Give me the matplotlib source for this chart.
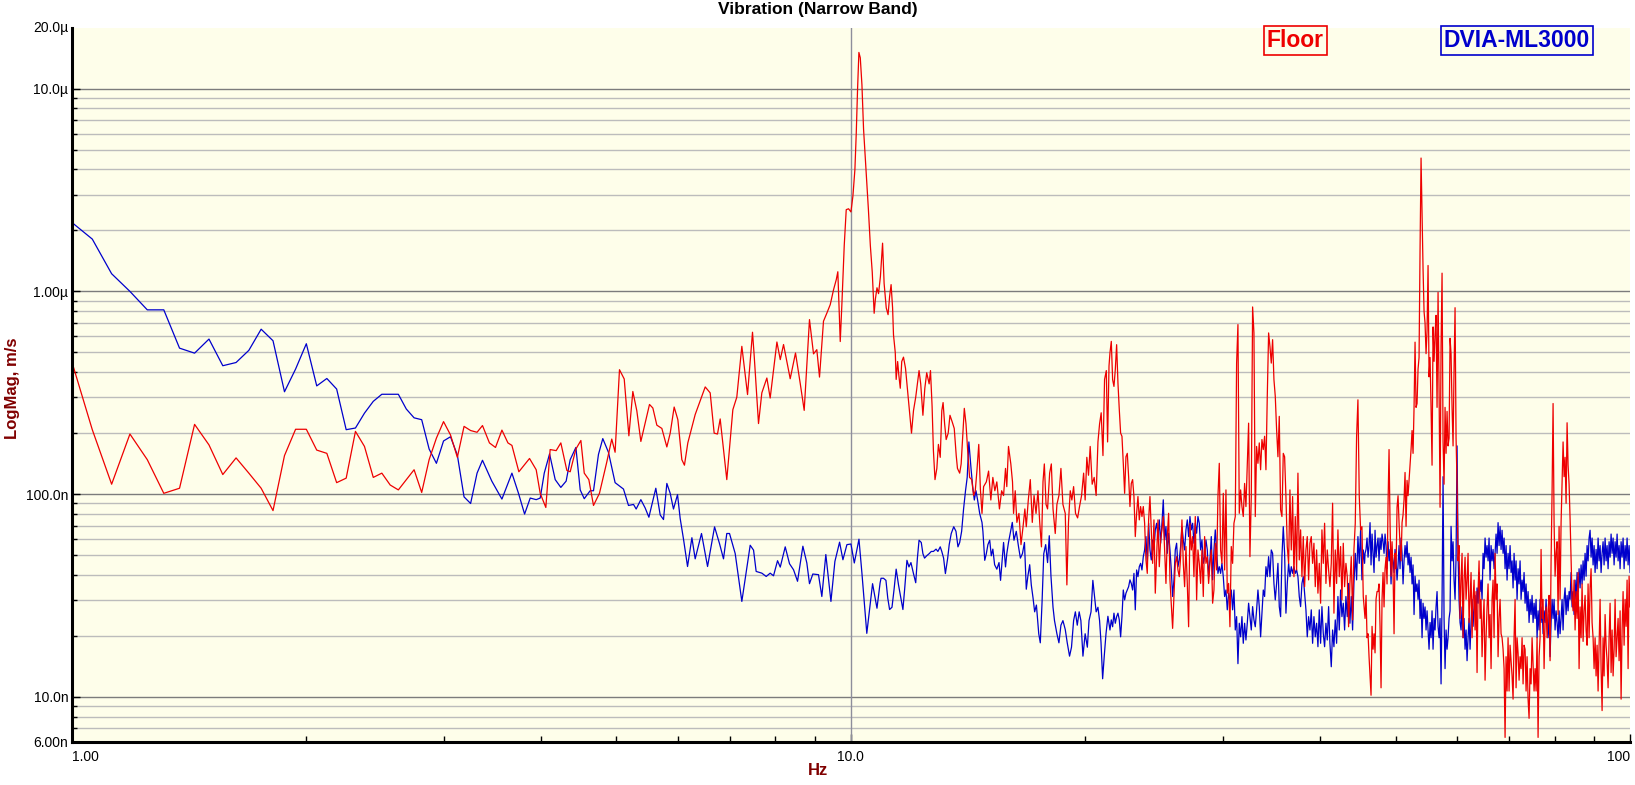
import numpy as np
import matplotlib
matplotlib.use("Agg")
import matplotlib.pyplot as plt

plt.rcParams["font.family"] = ["Liberation Sans", "DejaVu Sans"]

# ---------------------------------------------------------------------------
# Narrow band vibration spectra, magnitudes in nm/s
# ---------------------------------------------------------------------------

# 1 - 3.3 Hz : FFT bins every 0.0625 Hz
freq_low = np.arange(1.0, 3.33, 0.0625)
floor_low = [451, 208, 112, 198, 148, 101, 107, 221, 175, 125, 151, 127, 107,
             83, 155, 209, 209, 165, 159, 114, 120, 204, 172, 121, 127, 111,
             105, 118, 132, 102, 148, 189, 228, 196, 152, 216, 206, 202]
dvia_low = [2190, 1811, 1222, 1000, 811, 811, 525, 496, 582, 430, 446, 512,
            651, 571, 320, 414, 552, 342, 372, 330, 208, 212, 251, 287, 311,
            311, 311, 263, 238, 233, 167, 142, 183, 192, 156, 97, 90, 127]

# 3.3 - 21.5 Hz : (Hz, nm/s) vertices
floor_mid = [
    (3.366, 218), (3.436, 179), (3.498, 170), (3.565, 207), (3.629, 179),
    (3.672, 174), (3.748, 129), (3.868, 150), (3.945, 132), (3.992, 101),
    (4.059, 86), (4.111, 166), (4.185, 164), (4.243, 179), (4.319, 131),
    (4.362, 129), (4.436, 167), (4.502, 184), (4.547, 127), (4.609, 118),
    (4.673, 88), (4.756, 101), (4.860, 144), (4.932, 187), (4.981, 161),
    (5.046, 411), (5.117, 370), (5.188, 194), (5.249, 321), (5.311, 258),
    (5.375, 182), (5.514, 277), (5.569, 266), (5.635, 219), (5.719, 211),
    (5.804, 171), (5.862, 200), (5.931, 269), (5.996, 233), (6.067, 148),
    (6.114, 139), (6.175, 179), (6.311, 247), (6.501, 338), (6.597, 316),
    (6.675, 200), (6.741, 198), (6.795, 235), (6.929, 118), (7.054, 261),
    (7.137, 301), (7.244, 536), (7.367, 310), (7.476, 629), (7.514, 479),
    (7.610, 223), (7.685, 316), (7.800, 374), (7.877, 298), (8.035, 563),
    (8.115, 461), (8.194, 547), (8.357, 371), (8.489, 497), (8.607, 353),
    (8.710, 259), (8.847, 726), (8.953, 492), (9.041, 516), (9.113, 378),
    (9.221, 713), (9.315, 783), (9.407, 861), (9.500, 1021), (9.576, 1143),
    (9.62, 1250), (9.689, 566), (9.737, 873), (9.804, 1686), (9.862, 2530),
    (9.930, 2555), (10.0, 2466), (10.058, 2946), (10.118, 3993),
    (10.158, 5997), (10.198, 9950), (10.238, 15080), (10.28, 14190),
    (10.33, 10470), (10.38, 6310), (10.43, 4650), (10.48, 3430),
    (10.53, 2530), (10.59, 1686), (10.65, 1245), (10.71, 780), (10.75, 918),
    (10.80, 1042), (10.85, 975), (10.91, 1183), (10.98, 1729), (11.03, 1096),
    (11.10, 829), (11.16, 768), (11.21, 941), (11.26, 1080), (11.31, 829),
    (11.34, 611), (11.40, 499), (11.43, 368), (11.48, 451), (11.52, 387),
    (11.57, 333), (11.62, 451), (11.68, 474), (11.75, 418), (11.83, 316),
    (11.89, 258), (11.96, 200), (12.03, 258), (12.11, 301), (12.17, 350),
    (12.23, 407), (12.29, 350), (12.37, 245), (12.44, 333), (12.51, 397),
    (12.60, 350), (12.65, 407), (12.71, 272), (12.76, 164), (12.82, 118),
    (12.89, 134), (12.95, 176), (13.02, 152), (13.08, 258), (13.13, 283),
    (13.19, 222), (13.25, 186), (13.33, 200), (13.40, 245), (13.49, 227),
    (13.57, 211), (13.65, 155), (13.70, 134), (13.79, 127), (13.85, 141),
    (13.92, 200), (13.98, 265), (14.05, 222), (14.12, 164), (14.20, 121),
    (14.29, 118), (14.37, 98.5), (14.44, 104), (14.51, 130), (14.59, 176),
    (14.66, 106), (14.73, 80.4), (14.80, 109), (14.92, 115), (15.02, 130),
    (15.12, 93.6), (15.21, 121), (15.30, 104), (15.39, 115), (15.51, 84.6),
    (15.61, 104), (15.70, 98.5), (15.79, 134), (15.85, 109), (15.93, 172),
    (16.04, 141), (16.12, 115), (16.17, 80.4), (16.25, 104), (16.33, 72.6),
    (16.43, 80.4), (16.53, 56.4), (16.63, 69.1), (16.72, 84.6), (16.79, 69.1),
    (16.89, 93.6), (16.99, 118), (17.09, 72.6), (17.18, 98.5), (17.28, 80.4),
    (17.38, 104), (17.47, 72.6), (17.56, 55), (17.64, 115), (17.71, 141),
    (17.80, 89), (17.88, 84.6), (17.99, 127), (18.08, 141), (18.17, 84.6),
    (18.29, 64), (18.38, 89), (18.49, 98.5), (18.60, 134), (18.71, 89),
    (18.84, 80.4), (18.93, 35.7), (19.02, 72.6), (19.12, 104), (19.21, 93.6),
    (19.31, 109), (19.42, 80.4), (19.54, 76.4), (19.65, 86.8), (19.77, 98.5),
    (19.89, 127), (19.98, 93.6), (20.08, 152), (20.18, 124), (20.28, 172),
    (20.40, 112), (20.52, 121), (20.64, 98.5), (20.75, 181), (20.85, 222),
    (20.95, 252), (21.06, 155), (21.16, 368), (21.27, 407), (21.35, 181),
    (21.44, 429),
]
dvia_mid = [
    (3.366, 147), (3.460, 116), (3.565, 94.6), (3.672, 127), (3.744, 101),
    (3.812, 79.8), (3.876, 95.7), (3.945, 94), (3.992, 95.7), (4.040, 127),
    (4.104, 158), (4.173, 118), (4.243, 108), (4.310, 116), (4.362, 148),
    (4.436, 170), (4.493, 105), (4.547, 95), (4.627, 104), (4.673, 104),
    (4.742, 157), (4.803, 188), (4.884, 161), (4.981, 114), (5.106, 106),
    (5.182, 88), (5.260, 89), (5.301, 84.5), (5.375, 94), (5.444, 85.5),
    (5.504, 77), (5.618, 107), (5.691, 79), (5.747, 75), (5.804, 113),
    (5.862, 101), (5.919, 84.5), (5.990, 99.5), (6.037, 76), (6.097, 60),
    (6.170, 44), (6.250, 61), (6.311, 48), (6.430, 64), (6.546, 44),
    (6.683, 69), (6.782, 57), (6.862, 48), (6.929, 64), (6.985, 64),
    (7.103, 51), (7.244, 29.6), (7.425, 56), (7.499, 53), (7.557, 41.6),
    (7.685, 40.8), (7.785, 39.3), (7.877, 40.8), (7.955, 39.6), (8.050, 47),
    (8.115, 43.7), (8.235, 55), (8.340, 45.4), (8.440, 42.4), (8.540, 37.2),
    (8.676, 55.4), (8.778, 45.8), (8.847, 36.2), (8.935, 40.4), (9.086, 40.1),
    (9.176, 31.3), (9.285, 50.4), (9.426, 29.6), (9.537, 46.6), (9.670, 58),
    (9.766, 47.5), (9.882, 56.4), (10.0, 56.8), (10.10, 45.8), (10.24, 60),
    (10.33, 40.8), (10.48, 20.6), (10.66, 36.2), (10.80, 27.4), (10.90, 36.5),
    (10.93, 38.5), (11.01, 38.5), (11.09, 37.6), (11.15, 30.7), (11.21, 27),
    (11.29, 27.7), (11.36, 34), (11.43, 42.7), (11.51, 35.7), (11.59, 30.7),
    (11.66, 27), (11.72, 34), (11.80, 47.2), (11.87, 43.8), (11.94, 46),
    (12.03, 40.6), (12.11, 36.6), (12.17, 48.4), (12.23, 59.3), (12.31, 57.8),
    (12.37, 50.9), (12.43, 48.4), (12.51, 49.7), (12.60, 50.9), (12.68, 52.2),
    (12.76, 52.2), (12.86, 53.6), (12.93, 52.2), (13.02, 55), (13.08, 52.2),
    (13.15, 48.4), (13.22, 40.6), (13.31, 48.4), (13.37, 56.4), (13.45, 64),
    (13.55, 69.1), (13.64, 65.6), (13.72, 55), (13.79, 57.8), (13.87, 65.6),
    (13.95, 84.6), (14.03, 104), (14.10, 121), (14.17, 181), (14.26, 134),
    (14.33, 109), (14.40, 93.6), (14.47, 104), (14.54, 93.6), (14.63, 80.4),
    (14.73, 72.6), (14.77, 65.6), (14.85, 47.2), (14.92, 50.9), (14.99, 56.4),
    (15.07, 59.3), (15.14, 49.7), (15.21, 53.6), (15.29, 44.9), (15.39, 42.7),
    (15.49, 46), (15.56, 37.6), (15.64, 48.4), (15.70, 57.8), (15.79, 43.8),
    (15.85, 50.9), (15.93, 57.8), (16.01, 64), (16.11, 72.6), (16.19, 59.3),
    (16.30, 65.6), (16.41, 55), (16.50, 48.4), (16.60, 50.9), (16.70, 57.8),
    (16.79, 34), (16.87, 39.5), (16.96, 44.9), (17.04, 35.7), (17.13, 30.7),
    (17.21, 26.3), (17.30, 28.4), (17.42, 20.5), (17.50, 18.5), (17.59, 29.2),
    (17.68, 50.9), (17.78, 56.4), (17.88, 46), (17.97, 62.4), (18.06, 39.5),
    (18.17, 27.7), (18.25, 23.8), (18.38, 20.5), (18.49, 18.5), (18.60, 22.6),
    (18.71, 23.8), (18.84, 21.5), (18.95, 18.5), (19.08, 15.9), (19.19, 17.6),
    (19.31, 23.8), (19.41, 26.3), (19.52, 22.6), (19.63, 26.3), (19.73, 23.8),
    (19.85, 15.9), (19.98, 20.5), (20.11, 17.6), (20.21, 23.8), (20.33, 26.3),
    (20.44, 37.6), (20.55, 30.7), (20.64, 26.3), (20.75, 27.7), (20.85, 23.8),
    (20.94, 18.5), (21.04, 12.3), (21.14, 15.9), (21.25, 20.5), (21.37, 25),
]

# 21.5 - 45.6 Hz : dense band, one reading per pixel column pair
floor_band1 = [
    497, 567, 367, 340, 411, 546, 353, 261, 200, 193,
    142, 101, 153, 159, 122, 86.9, 113, 118, 97.4, 61.8,
    80.5, 97.4, 74.7, 86.9, 77.6, 86.9, 71.9, 47.4, 40.7, 74.7,
    97.4, 66.7, 45.6, 74.7, 32.5, 49.2, 74.7, 43.9, 59.5, 66.7,
    77.6, 53.1, 36.3, 61.8, 80.5, 37.8, 29.0, 21.8, 31.3, 45.6,
    49.2, 42.3, 39.2, 49.2, 74.7, 45.6, 35.0, 55.2, 36.3, 22.2,
    71.9, 53.1, 61.8, 39.2, 77.6, 30.1, 53.1, 45.6, 36.3, 53.1,
    31.3, 61.8, 45.6, 49.2, 36.3, 45.6, 53.1, 29.0, 33.7, 57.3,
    42.3, 97.4, 142, 53.1, 45.6, 101, 42.3, 105, 32.5, 36.3,
    22.2, 55.2, 45.6, 71.9, 77.6, 443, 686, 80.5, 105, 86.9,
    77.6, 113, 86.9, 142, 224, 49.2, 97.4, 838, 624, 77.6,
    172, 142, 179, 132, 186, 166, 193, 132, 304, 624,
    536, 443, 578, 367, 304, 208, 153, 242, 83.7, 77.6,
    159, 153, 97.4, 55.2, 45.6, 105, 53.1, 97.4, 39.2, 77.6,
    42.3, 127, 47.4, 66.7, 39.2, 61.8, 35.0, 53.1, 61.8, 37.8,
    57.3, 61.8, 45.6, 57.3, 35.0, 53.1, 32.5, 45.6, 29.0, 66.7,
    45.6, 71.9, 36.3, 53.1, 42.3, 35.0, 45.6, 90.3, 25.9, 53.1,
    36.3, 66.7, 39.2, 55.2, 30.1, 57.3, 35.0, 45.6, 39.2, 22.2,
    36.3, 49.2, 24.0, 53.1, 71.9, 193, 292, 97.4, 66.7, 69.2,
    31.3, 25.9,
]
dvia_band1 = [
    21.4, 24.0, 22.2, 25.9, 23.1, 24.9, 25.9, 24.0, 19.8, 24.9,
    33.7, 30.1, 32.5, 33.7, 35.0, 37.8, 36.3, 33.7, 40.7, 26.9,
    42.3, 39.2, 43.9, 45.6, 42.3, 49.2, 53.1, 61.8, 45.6, 71.9,
    53.1, 47.4, 59.5, 53.1, 66.7, 71.9, 61.8, 74.7, 57.3, 71.9,
    93.8, 59.5, 69.2, 51.1, 64.2, 53.1, 42.3, 31.3, 37.8, 53.1,
    57.3, 43.9, 47.4, 55.2, 69.2, 59.5, 53.1, 66.7, 74.7, 61.8,
    77.6, 66.7, 71.9, 57.3, 71.9, 64.2, 77.6, 71.9, 53.1, 59.5,
    45.6, 49.2, 59.5, 53.1, 39.2, 47.4, 61.8, 37.8, 53.1, 66.7,
    53.1, 40.7, 43.9, 40.7, 45.6, 39.2, 31.3, 33.7, 26.9, 32.5,
    30.1, 33.7, 26.9, 33.7, 21.4, 24.9, 14.6, 23.1, 19.8, 24.9,
    18.4, 23.1, 19.1, 23.1, 29.0, 24.9, 21.4, 27.9, 24.0, 22.2,
    26.9, 33.7, 27.9, 19.8, 25.9, 33.7, 31.3, 43.9, 39.2, 49.2,
    39.2, 53.1, 51.1, 36.3, 30.1, 36.3, 45.6, 27.9, 24.9, 49.2,
    69.2, 51.1, 25.9, 36.3, 45.6, 39.2, 43.9, 40.7, 43.9, 40.7,
    42.3, 39.2, 31.3, 27.9, 36.3, 39.2, 32.5, 26.9, 19.8, 24.9,
    21.4, 26.9, 18.4, 24.9, 19.8, 23.1, 17.7, 26.9, 18.4, 27.9,
    20.6, 17.7, 23.1, 19.1, 27.9, 18.4, 14.1, 21.4, 17.7, 24.0,
    18.4, 31.3, 21.4, 33.7, 24.9, 29.0, 21.4, 31.3, 24.9, 36.3,
    23.1, 31.3, 21.4, 36.3, 51.1, 37.8, 61.8, 45.6, 66.7, 37.8,
    53.1, 45.6,
]

# 45.7 - 100 Hz : dense band
floor_band2 = [
    24.4, 31.7, 19.6, 20.5, 15.8, 12.7, 10.2, 22.3, 17.2, 20.5,
    16.5, 30.3, 33.1, 33.1, 36.1, 22.3, 11.1, 30.3, 41.1, 27.8,
    42.9, 48.9, 36.1, 90.1, 166, 72.4, 39.4, 58.3, 41.1, 20.5,
    51.1, 42.9, 86.2, 98.3, 72.4, 55.8, 46.9, 72.4, 79.1, 94.1,
    128, 69.4, 117, 98.3, 117, 139, 166, 206, 159, 268,
    562, 268, 280, 414, 472, 1597, 4545, 2470, 1285, 796,
    698, 493, 640, 1342, 379, 472, 268, 139, 668, 452,
    613, 762, 268, 989, 333, 86.2, 538, 1230, 181, 112,
    268, 159, 256, 173, 189, 587, 493, 268, 173, 414,
    831, 189, 112, 46.9, 55.8, 24.4, 37.7, 51.1, 19.6, 37.7,
    48.9, 30.3, 37.7, 51.1, 23.3, 30.3, 41.1, 19.6, 30.3, 37.7,
    21.4, 33.1, 13.2, 33.1, 46.9, 24.4, 30.3, 15.8, 23.3, 30.3,
    12.1, 19.6, 27.8, 36.1, 19.6, 25.5, 13.8, 30.3, 37.7, 19.6,
    51.1, 30.3, 36.1, 15.8, 24.4, 30.3, 20.5, 19.6, 17.2, 13.8,
    6.32, 15.8, 10.7, 19.6, 10.7, 18.0, 15.1, 12.7, 9.76, 19.6,
    30.3, 11.1, 19.6, 16.5, 12.1, 15.8, 13.8, 19.6, 11.6, 18.0,
    17.2, 10.7, 15.8, 9.76, 7.85, 13.8, 11.6, 19.6, 14.5, 10.7,
    13.8, 10.7, 19.6, 6.32, 15.8, 19.6, 53.4, 24.4, 30.3, 13.8,
    23.3, 27.8, 19.6, 26.6, 31.7, 15.1, 46.9, 103, 280, 72.4,
    39.4, 51.1, 58.3, 25.5, 69.4, 30.3, 72.4, 112, 181, 122,
    152, 90.1, 225, 139, 112, 75.7, 48.9, 30.3, 26.6, 37.7,
    21.4, 33.1, 24.4, 41.1, 13.8, 27.8, 19.6, 36.1, 18.8, 26.6,
    31.7, 21.4, 18.0, 36.1, 19.6, 34.5, 42.9, 23.3, 19.6, 13.8,
    19.6, 12.7, 18.0, 10.7, 18.0, 30.3, 13.8, 8.57, 19.6, 12.7,
    25.5, 18.0, 15.1, 11.1, 19.6, 29.0, 13.2, 21.4, 12.7, 17.2,
    30.3, 15.8, 19.6, 24.4, 15.1, 26.6, 9.76, 21.4, 33.1, 18.0,
    30.3, 22.3, 37.7, 13.8, 39.4, 27.8,
]
dvia_band2 = [
    51.1, 53.4, 60.8, 48.9, 55.8, 72.4, 44.8, 63.6, 51.1, 41.1,
    66.4, 48.9, 55.8, 60.8, 46.9, 60.8, 53.4, 63.6, 58.3, 51.1,
    63.6, 55.8, 42.9, 58.3, 46.9, 53.4, 36.1, 51.1, 46.9, 41.1,
    53.4, 46.9, 37.7, 44.8, 55.8, 42.9, 60.8, 51.1, 36.1, 46.9,
    55.8, 48.9, 58.3, 44.8, 51.1, 41.1, 48.9, 36.1, 44.8, 25.5,
    39.4, 33.1, 36.1, 30.3, 37.7, 24.4, 30.3, 19.6, 29.0, 24.4,
    27.8, 21.4, 26.6, 21.4, 17.2, 23.3, 19.6, 26.6, 17.2, 24.4,
    21.4, 27.8, 33.1, 22.3, 19.6, 24.4, 11.6, 30.3, 122, 24.4,
    13.8, 21.4, 17.2, 19.6, 24.4, 26.6, 69.4, 46.9, 58.3, 37.7,
    30.3, 48.9, 173, 51.1, 30.3, 23.3, 21.4, 27.8, 19.6, 24.4,
    17.2, 21.4, 15.1, 19.6, 24.4, 17.2, 23.3, 30.3, 22.3, 27.8,
    31.7, 24.4, 34.5, 29.0, 41.1, 33.1, 37.7, 30.3, 51.1, 42.9,
    60.8, 48.9, 55.8, 46.9, 60.8, 37.7, 55.8, 46.9, 53.4, 42.9,
    51.1, 63.6, 51.1, 72.4, 55.8, 69.4, 53.4, 66.4, 51.1, 60.8,
    42.9, 55.8, 37.7, 51.1, 42.9, 55.8, 41.1, 46.9, 34.5, 51.1,
    37.7, 46.9, 30.3, 42.9, 36.1, 46.9, 30.3, 37.7, 33.1, 41.1,
    29.0, 36.1, 26.6, 33.1, 23.3, 30.3, 25.5, 31.7, 23.3, 29.0,
    24.4, 30.3, 19.6, 26.6, 21.4, 30.3, 23.3, 27.8, 20.5, 26.6,
    23.3, 30.3, 22.3, 19.6, 25.5, 15.8, 23.3, 30.3, 24.4, 30.3,
    21.4, 26.6, 23.3, 19.6, 26.6, 20.5, 24.4, 30.3, 21.4, 30.3,
    34.5, 25.5, 31.7, 26.6, 33.1, 30.3, 41.1, 27.8, 33.1, 25.5,
    37.7, 30.3, 41.1, 33.1, 42.9, 34.5, 44.8, 36.1, 46.9, 37.7,
    51.1, 39.4, 55.8, 46.9, 60.8, 66.4, 48.9, 60.8, 44.8, 55.8,
    41.1, 53.4, 42.9, 60.8, 46.9, 55.8, 41.1, 51.1, 58.3, 44.8,
    60.8, 46.9, 55.8, 42.9, 58.3, 48.9, 63.6, 51.1, 60.8, 44.8,
    58.3, 48.9, 63.6, 46.9, 55.8, 42.9, 58.3, 48.9, 60.8, 42.9,
    55.8, 46.9, 60.8, 44.8, 55.8, 41.1,
]

# y axis labels
ytick_vals = [1e-8, 1e-7, 1e-6, 1e-5]
ytick_text = ["10.0n", "100.0n", "1.00\u00b5", "10.0\u00b5"]
xtick_vals = [1, 10, 100]
xtick_text = ["1.00", "10.0", "100"]

BG = "#fefeea"
RED = "#ee0000"
BLUE = "#0000cc"
DARKRED = "#800000"


def build(low, mid, band1, band2, f_low):
    mid = np.array(mid, dtype=float)
    f = np.concatenate([
        f_low, mid[:, 0],
        np.geomspace(21.50, 45.63, len(band1)),
        np.geomspace(45.69, 100.0, len(band2)),
    ])
    v = np.concatenate([low, mid[:, 1], band1, band2]) * 1e-9
    return f, v


f_floor, v_floor = build(floor_low, floor_mid, floor_band1, floor_band2, freq_low)
f_dvia, v_dvia = build(dvia_low, dvia_mid, dvia_band1, dvia_band2, freq_low)

fig = plt.figure(figsize=(16.35, 7.85), dpi=100)
ax = fig.add_axes([0.0439, 0.0548, 0.9531, 0.9101])
ax.set_facecolor(BG)

ax.plot(f_dvia, v_dvia, color=BLUE, lw=0.9, zorder=3)
ax.plot(f_floor, v_floor, color=RED, lw=0.9, zorder=4)

ax.set_xscale("log")
ax.set_yscale("log")
ax.set_xlim(1, 100)
ax.set_ylim(6e-9, 2e-5)

# y ticks / grid
minor_y = [m * 10.0 ** e for e in range(-9, -5) for m in range(2, 10)
           if 6e-9 <= m * 10.0 ** e < 1.5e-5]
ax.set_yticks(ytick_vals, labels=ytick_text)
ax.set_yticks(minor_y, labels=["6.00n" if abs(t - 6e-9) < 1e-12 else "" for t in minor_y],
              minor=True)
ax.grid(True, which="major", axis="y", color="#7c7c7c", lw=1.0, zorder=1)
ax.grid(True, which="minor", axis="y", color="#bcbcbc", lw=1.0, zorder=1)
ax.text(-0.002, 2e-5, "20.0\u00b5", transform=ax.get_yaxis_transform(),
        ha="right", va="center", fontsize=10)

# x ticks
minor_x = [m * 10.0 ** e for e in range(0, 2) for m in range(2, 10)]
ax.set_xticks(xtick_vals, labels=xtick_text)
ax.set_xticks(minor_x, minor=True)
ax.xaxis.set_minor_formatter(plt.NullFormatter())
xl = ax.get_xticklabels()
xl[0].set_ha("left")
xl[2].set_ha("right")
ax.axvline(10, color="#8e8e9c", lw=1.0, zorder=2)

ax.tick_params(axis="both", which="both", direction="in", labelsize=10,
               color="black", width=1)
ax.tick_params(axis="y", which="major", length=6, pad=2.5)
ax.tick_params(axis="y", which="minor", length=3.6, pad=2.5)
ax.tick_params(axis="x", which="major", length=6, pad=5.5)
ax.tick_params(axis="x", which="minor", length=4.5, pad=5.5)

for s in ("top", "right"):
    ax.spines[s].set_visible(False)
for s in ("left", "bottom"):
    ax.spines[s].set_linewidth(2.2)
    ax.spines[s].set_zorder(6)

# titles and labels
fig.text(0.5, 0.988, "Vibration (Narrow Band)", ha="center", va="center",
         fontsize=12.5, fontweight="bold")
fig.text(0.5, 0.019, "Hz", ha="center", va="center", fontsize=12,
         fontweight="bold", color=DARKRED)
fig.text(0.0075, 0.506, "LogMag, m/s", ha="center", va="center", rotation=90,
         fontsize=12, fontweight="bold", color=DARKRED)

# series labels
fig.text(0.7923, 0.9484, "Floor", ha="center", va="center", fontsize=16.5,
         fontweight="bold", color=RED,
         bbox=dict(boxstyle="square,pad=0.12", fc=BG, ec=RED, lw=1.2))
fig.text(0.9278, 0.9484, "DVIA-ML3000", ha="center", va="center", fontsize=16.5,
         fontweight="bold", color=BLUE,
         bbox=dict(boxstyle="square,pad=0.12", fc=BG, ec=BLUE, lw=1.2))

fig.savefig("out.png", dpi=100, facecolor="white")
